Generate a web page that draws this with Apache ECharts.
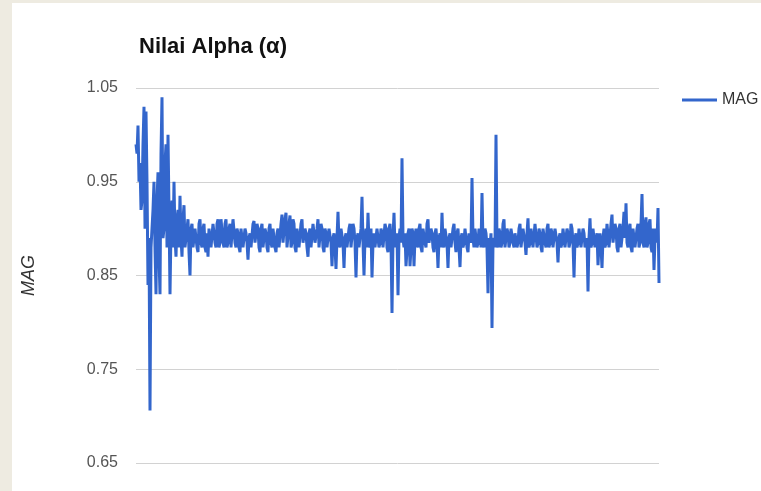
<!DOCTYPE html>
<html>
<head>
<meta charset="utf-8">
<script src="https://cdn.jsdelivr.net/npm/echarts@6/dist/echarts.min.js"></script>
<style>
  html, body { margin: 0; padding: 0; background: #eeebe1; width: 761px; height: 491px; overflow: hidden; }
  #chart { position: absolute; left: 12px; top: 3px; width: 749px; height: 488px; background: #ffffff; }
</style>
</head>
<body>
<div id="chart"></div>
<script>
// Chart text
const chartTitle = 'Nilai Alpha (\u03b1)';
const seriesName = 'MAG';
const yAxisName = 'MAG';

// Y axis ticks
const yTicks = [0.65, 0.75, 0.85, 0.95, 1.05];

// MAG samples, in order of observation
const magValues = [
  0.99, 0.98, 1.01, 0.95, 0.97, 0.92, 0.93, 0.99, 1.03, 0.90, 1.025, 0.95, 0.84, 0.89, 0.706, 0.88, 0.90, 0.92, 0.95, 0.88,
  0.83, 0.93, 0.96, 0.87, 0.83, 0.98, 1.04, 0.89, 0.90, 0.97, 0.99, 0.88, 1.00, 0.92, 0.83, 0.90, 0.93, 0.88, 0.95, 0.89,
  0.87, 0.91, 0.92, 0.88, 0.935, 0.89, 0.87, 0.91, 0.925, 0.88, 0.89, 0.90, 0.91, 0.875, 0.85, 0.90, 0.905, 0.88, 0.88, 0.90,
  0.90, 0.88, 0.875, 0.905, 0.91, 0.885, 0.88, 0.90, 0.905, 0.88, 0.875, 0.895, 0.87, 0.90, 0.90, 0.88, 0.88, 0.905, 0.905, 0.885,
  0.88, 0.905, 0.91, 0.88, 0.885, 0.91, 0.91, 0.885, 0.88, 0.905, 0.91, 0.88, 0.885, 0.90, 0.905, 0.88, 0.88, 0.91, 0.91, 0.885,
  0.88, 0.90, 0.895, 0.88, 0.875, 0.90, 0.90, 0.88, 0.88, 0.90, 0.895, 0.885, 0.867, 0.89, 0.895, 0.88, 0.88, 0.905, 0.908, 0.885,
  0.885, 0.905, 0.90, 0.88, 0.875, 0.90, 0.905, 0.88, 0.88, 0.90, 0.895, 0.88, 0.875, 0.90, 0.905, 0.885, 0.88, 0.90, 0.89, 0.88,
  0.875, 0.895, 0.90, 0.88, 0.88, 0.905, 0.915, 0.885, 0.885, 0.91, 0.917, 0.88, 0.88, 0.905, 0.914, 0.88, 0.885, 0.91, 0.905, 0.88,
  0.875, 0.90, 0.90, 0.88, 0.88, 0.905, 0.91, 0.885, 0.885, 0.90, 0.895, 0.88, 0.87, 0.895, 0.90, 0.88, 0.88, 0.905, 0.905, 0.885,
  0.885, 0.90, 0.91, 0.88, 0.88, 0.905, 0.90, 0.88, 0.875, 0.90, 0.895, 0.88, 0.88, 0.90, 0.90, 0.885, 0.86, 0.89, 0.895, 0.88,
  0.857, 0.89, 0.918, 0.885, 0.88, 0.90, 0.90, 0.885, 0.858, 0.89, 0.895, 0.88, 0.88, 0.90, 0.905, 0.88, 0.88, 0.905, 0.90, 0.885,
  0.848, 0.89, 0.895, 0.88, 0.88, 0.90, 0.934, 0.885, 0.85, 0.89, 0.90, 0.88, 0.917, 0.885, 0.88, 0.90, 0.848, 0.885, 0.895, 0.88,
  0.88, 0.90, 0.90, 0.88, 0.885, 0.90, 0.895, 0.88, 0.88, 0.905, 0.90, 0.88, 0.875, 0.90, 0.905, 0.885, 0.81, 0.89, 0.917, 0.88,
  0.88, 0.895, 0.829, 0.89, 0.90, 0.885, 0.975, 0.89, 0.88, 0.895, 0.86, 0.86, 0.895, 0.90, 0.86, 0.86, 0.90, 0.895, 0.86, 0.89,
  0.90, 0.885, 0.88, 0.90, 0.905, 0.88, 0.875, 0.90, 0.90, 0.885, 0.88, 0.905, 0.91, 0.885, 0.885, 0.90, 0.895, 0.88, 0.875, 0.895,
  0.90, 0.885, 0.858, 0.89, 0.895, 0.88, 0.917, 0.885, 0.88, 0.90, 0.90, 0.885, 0.858, 0.89, 0.895, 0.88, 0.88, 0.90, 0.905, 0.885,
  0.875, 0.895, 0.90, 0.88, 0.859, 0.89, 0.895, 0.88, 0.885, 0.90, 0.90, 0.88, 0.875, 0.895, 0.895, 0.885, 0.954, 0.89, 0.88, 0.90,
  0.90, 0.88, 0.885, 0.90, 0.895, 0.88, 0.938, 0.885, 0.88, 0.90, 0.895, 0.88, 0.831, 0.89, 0.88, 0.895, 0.794, 0.885, 0.89, 0.88,
  1.00, 0.885, 0.88, 0.90, 0.895, 0.88, 0.885, 0.905, 0.91, 0.88, 0.88, 0.90, 0.895, 0.88, 0.885, 0.90, 0.90, 0.885, 0.88, 0.895,
  0.895, 0.88, 0.885, 0.90, 0.905, 0.88, 0.88, 0.90, 0.90, 0.885, 0.872, 0.895, 0.911, 0.88, 0.885, 0.90, 0.90, 0.88, 0.88, 0.905,
  0.905, 0.88, 0.885, 0.90, 0.895, 0.88, 0.875, 0.90, 0.90, 0.885, 0.88, 0.90, 0.905, 0.88, 0.885, 0.90, 0.895, 0.88, 0.88, 0.90,
  0.90, 0.885, 0.864, 0.89, 0.895, 0.88, 0.885, 0.90, 0.90, 0.88, 0.88, 0.90, 0.895, 0.88, 0.885, 0.905, 0.90, 0.885, 0.848, 0.89,
  0.895, 0.88, 0.885, 0.90, 0.90, 0.88, 0.88, 0.90, 0.895, 0.88, 0.885, 0.89, 0.833, 0.89, 0.911, 0.88, 0.885, 0.90, 0.90, 0.88,
  0.88, 0.895, 0.861, 0.885, 0.895, 0.88, 0.858, 0.89, 0.90, 0.88, 0.885, 0.905, 0.905, 0.88, 0.88, 0.905, 0.915, 0.885, 0.885, 0.905,
  0.90, 0.88, 0.875, 0.90, 0.905, 0.88, 0.88, 0.90, 0.918, 0.89, 0.927, 0.885, 0.88, 0.90, 0.905, 0.88, 0.875, 0.90, 0.90, 0.88,
  0.88, 0.90, 0.905, 0.88, 0.885, 0.905, 0.937, 0.885, 0.88, 0.905, 0.912, 0.88, 0.885, 0.905, 0.91, 0.88, 0.875, 0.90, 0.856, 0.89,
  0.90, 0.885, 0.922, 0.842
];

const sampleIndex = magValues.map((_, i) => String(i + 1));

const chart = echarts.init(document.getElementById('chart'), null, { renderer: 'canvas' });

chart.setOption({
  backgroundColor: '#ffffff',
  animation: false,
  title: {
    text: chartTitle,
    left: 122,
    top: 28,
    textStyle: {
      fontFamily: 'Liberation Sans, Arial, sans-serif',
      fontSize: 22,
      fontWeight: 'bold',
      color: '#111111'
    }
  },
  legend: {
    data: [{ name: seriesName, icon: 'rect' }],
    left: 665,
    top: 84,
    itemWidth: 35,
    itemHeight: 3,
    itemGap: 7,
    textStyle: {
      fontFamily: 'Liberation Sans, Arial, sans-serif',
      fontSize: 16,
      color: '#333333'
    }
  },
  grid: {
    left: 123,
    right: 102,
    top: 85,
    bottom: 28,
    containLabel: false
  },
  xAxis: {
    type: 'category',
    data: sampleIndex,
    boundaryGap: false,
    show: false
  },
  yAxis: {
    type: 'value',
    min: yTicks[0],
    max: yTicks[yTicks.length - 1],
    interval: 0.1,
    name: yAxisName,
    nameLocation: 'middle',
    nameRotate: 90,
    nameGap: 98,
    nameTextStyle: {
      fontFamily: 'Liberation Sans, Arial, sans-serif',
      fontSize: 18,
      fontStyle: 'italic',
      color: '#333333'
    },
    axisLine: { show: false },
    axisTick: { show: false },
    axisLabel: {
      margin: 18,
      fontFamily: 'Liberation Sans, Arial, sans-serif',
      fontSize: 16,
      color: '#555555',
      formatter: v => v.toFixed(2)
    },
    splitLine: { lineStyle: { color: '#d2d2d2', width: 1 } }
  },
  series: [{
    name: seriesName,
    type: 'line',
    data: magValues,
    showSymbol: false,
    symbol: 'none',
    sampling: null,
    color: '#3366cc',
    lineStyle: { color: '#3366cc', width: 3, join: 'bevel' }
  }]
});
</script>
</body>
</html>
